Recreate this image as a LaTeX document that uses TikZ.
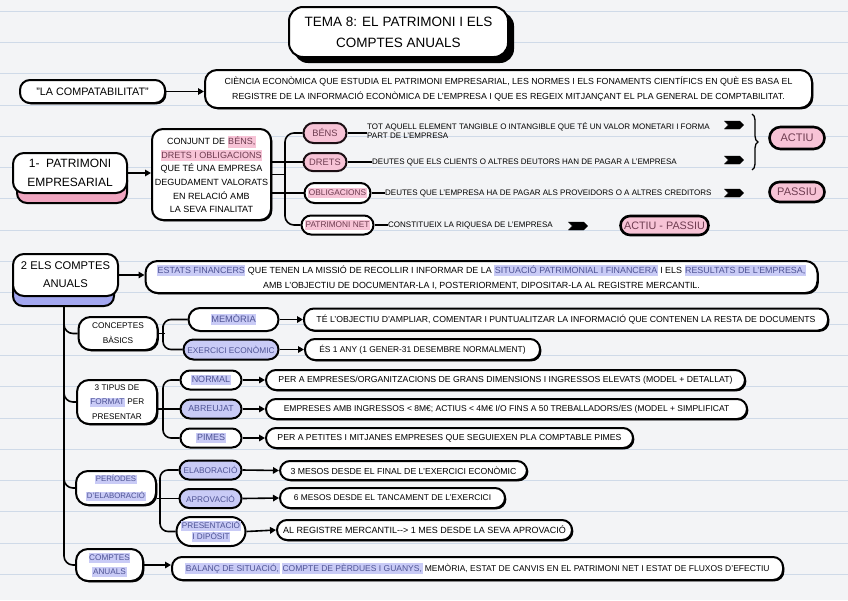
\documentclass[tikz,border=0pt]{standalone}
\usepackage{fontspec}
\setmainfont{Liberation Sans}
\usetikzlibrary{shapes.symbols,shapes.misc,arrows.meta,decorations.pathreplacing,shadows}
\definecolor{bg}{HTML}{F3F4F6}
\definecolor{rulec}{HTML}{CFDAE8}
\definecolor{pinkf}{HTML}{F7C3D6}
\definecolor{pinksh}{HTML}{F0A5C0}
\definecolor{lav}{HTML}{C9CBF6}
\definecolor{lavsh}{HTML}{A3A7F0}
\definecolor{lavtxt}{HTML}{4E5394}
\definecolor{pinktxt}{HTML}{6E3C50}
\newcommand{\hlb}[1]{{\setlength{\fboxsep}{0.6pt}\colorbox{lav}{\vrule height 0.8em depth 0.25em width 0pt\textcolor{lavtxt}{#1}}}}
\newcommand{\hlp}[1]{{\setlength{\fboxsep}{0.6pt}\colorbox{pinkf}{\vrule height 0.8em depth 0.25em width 0pt\textcolor{pinktxt}{#1}}}}
\newcommand{\fs}[2]{\fontsize{#1}{#2}\selectfont}
\tikzset{
  bx/.style={draw=black, line width=2pt, fill=white, rounded corners=10pt, align=center, inner sep=2pt},
  box/.style={bx, drop shadow={shadow xshift=1.4pt, shadow yshift=-1.4pt, fill=black, opacity=1}},
  dbox/.style={box, font=\fs{8.7}{10}},
  pill/.style={draw=black, line width=2pt, fill=white, rounded rectangle, inner sep=1.5pt, align=center, font=\fs{8.3}{9}},
  conn/.style={line width=1.6pt, draw=black},
  arr/.style={conn, -{Triangle[length=6pt,width=6.5pt]}},
  chev/.style={shape=signal, signal to=east, signal from=west, fill=black, draw=black, minimum width=19pt, minimum height=8pt, inner sep=0pt},
  desc/.style={anchor=west, inner sep=0pt, align=left, font=\fs{8}{9.5}}
}
\begin{document}
\begin{tikzpicture}[x=1pt,y=-1pt]
\useasboundingbox (0,0) rectangle (848,600);
\fill[bg] (0,0) rectangle (848,600);
\foreach \k in {0,...,18} \draw[rulec, line width=0.8pt] (0,11+31.3*\k) -- (848,11+31.3*\k);

% title
\fill[black, rounded corners=14pt] (294,12) rectangle (514,63);
\node[bx, rounded corners=14pt, minimum width=219pt, minimum height=50pt, font=\fs{13.5}{21}] (title) at (398.5,32) {TEMA 8: EL PATRIMONI I ELS\\COMPTES ANUALS};

% comptabilitat
\node[box, minimum width=145pt, minimum height=23pt, font=\fs{10.8}{11}] (lac) at (92.5,91.5) {"LA COMPATABILITAT"};
\node[box, minimum width=607pt, minimum height=38pt, rounded corners=12pt, font=\fs{8.8}{14.5}] (def) at (508.5,89) {CIÈNCIA ECONÒMICA QUE ESTUDIA EL PATRIMONI EMPRESARIAL, LES NORMES I ELS FONAMENTS CIENTÍFICS EN QUÈ ES BASA EL\\REGISTRE DE LA INFORMACIÓ ECONÒMICA DE L'EMPRESA I QUE ES REGEIX MITJANÇANT EL PLA GENERAL DE COMPTABILITAT.};
\draw[arr] (lac.east) -- (lac.east -| def.west);

% section 1
\fill[pinksh, draw=black, line width=2pt, rounded corners=10pt] (17,170) rectangle (127,203);
\node[bx, minimum width=114pt, minimum height=40pt, rounded corners=11pt, font=\fs{12}{19}] (pat) at (70,173) {1-\ \ PATRIMONI\\EMPRESARIAL};
\node[box, minimum width=119pt, minimum height=91pt, rounded corners=11pt, font=\fs{9}{13.6}] (cb) at (211.5,174.5) {CONJUNT DE \hlp{BÉNS,}\\\hlp{DRETS I OBLIGACIONS}\\QUE TÉ UNA EMPRESA\\DEGUDAMENT VALORATS\\EN RELACIÓ AMB\\LA SEVA FINALITAT};
\draw[arr] (pat.east) -- (pat.east -| cb.west);

\node[pill, fill=pinkf, draw=black!75!pinktxt, minimum width=46pt, minimum height=20pt, font=\fs{9.3}{10}] (bens) at (325,133) {\textcolor{pinktxt}{BÉNS}};
\node[pill, fill=pinkf, draw=black!75!pinktxt, minimum width=46pt, minimum height=18pt, font=\fs{9.3}{10}] (drets) at (325,162) {\textcolor{pinktxt}{DRETS}};
\node[pill, minimum width=69pt, minimum height=20pt] (oblig) at (337.5,193) {\hlp{OBLIGACIONS}};
\node[pill, minimum width=75pt, minimum height=19pt] (pn) at (337.5,225) {\hlp{PATRIMONI NET}};
\draw[conn, rounded corners=9pt] (bens.west) -| (285,180) |- (pn.west);
\draw[conn] (cb.east) -- ++(14,0);
\draw[conn] (drets.west -| cb.east) -- (drets.west);
\draw[conn] (oblig.west -| cb.east) -- (oblig.west);

\node[desc] (tb) at (367,130.5) {TOT AQUELL ELEMENT TANGIBLE O INTANGIBLE QUE TÉ UN VALOR MONETARI I FORMA\\PART DE L'EMPRESA};
\node[desc] (td) at (372,162) {DEUTES QUE ELS CLIENTS O ALTRES DEUTORS HAN DE PAGAR A L'EMPRESA};
\node[desc] (to) at (385,193) {DEUTES QUE L'EMPRESA HA DE PAGAR ALS PROVEIDORS O A ALTRES CREDITORS};
\node[desc] (tp) at (388,225) {CONSTITUEIX LA RIQUESA DE L'EMPRESA};
\draw[conn, line width=1.3pt] (bens.east) -- (bens.east -| tb.west);
\draw[conn, line width=1.3pt] (drets.east) -- (td.west);
\draw[conn, line width=1.3pt] (oblig.east) -- (to.west);
\draw[conn, line width=1.3pt] (pn.east) -- (tp.west);

\node[chev] (c1) at (734,125) {};
\node[chev] (c2) at (734,160) {};
\node[chev] (c3) at (734,193) {};
\node[chev] (c4) at (578,226) {};
\draw[line width=1.3pt, decorate, decoration={brace, amplitude=6pt}] (752,114) -- (752,170);
\node[pill, fill=pinkf, line width=2.6pt, minimum width=58pt, minimum height=22pt, font=\fs{11}{12}] (actiu) at (797,138) {\textcolor{pinktxt}{ACTIU}};
\node[pill, fill=pinkf, line width=2.6pt, minimum width=58pt, minimum height=20pt, font=\fs{11}{12}] (passiu) at (797,192) {\textcolor{pinktxt}{PASSIU}};
\node[pill, fill=pinkf, line width=2.6pt, minimum width=91pt, minimum height=19pt, font=\fs{10.8}{12}] (ap) at (664.5,225.5) {\textcolor{pinktxt}{ACTIU - PASSIU}};

% section 2
\fill[lavsh, draw=black, line width=2pt, rounded corners=10pt] (13,276) rectangle (114,306);
\node[bx, minimum width=105pt, minimum height=42pt, rounded corners=11pt, font=\fs{11.2}{18}] (ca2) at (65.5,275) {2 ELS COMPTES\\ANUALS};
\node[box, minimum width=672pt, minimum height=32pt, rounded corners=12pt, font=\fs{8.9}{15}] (est) at (481.5,277) {\hlb{ESTATS FINANCERS} QUE TENEN LA MISSIÓ DE RECOLLIR I INFORMAR DE LA \hlb{SITUACIÓ PATRIMONIAL I FINANCERA} I ELS \hlb{RESULTATS DE L'EMPRESA,}\\AMB L'OBJECTIU DE DOCUMENTAR-LA I, POSTERIORMENT, DIPOSITAR-LA AL REGISTRE MERCANTIL.};
\draw[arr] (ca2.east) -- (ca2.east -| est.west);

\node[box, minimum width=79pt, minimum height=33pt, rounded corners=12pt, font=\fs{8.3}{15}] (conc) at (118,333.5) {CONCEPTES\\BÀSICS};
\node[box, minimum width=80pt, minimum height=44pt, rounded corners=12pt, font=\fs{8.2}{14.5}] (tip) at (117,402) {3 TIPUS DE\\\hlb{FORMAT} PER\\PRESENTAR};
\node[box, minimum width=80pt, minimum height=34pt, rounded corners=12pt, font=\fs{7.8}{17}] (per) at (116,488) {\hlb{PERÍODES}\\\hlb{D'ELABORACIÓ}};
\node[box, minimum width=67pt, minimum height=32pt, rounded corners=12pt, font=\fs{8.2}{14}] (cafin) at (109.5,565) {\hlb{COMPTES}\\\hlb{ANUALS}};
\draw[conn, rounded corners=9pt] (64,306) |- (conc.west);
\draw[conn, rounded corners=9pt] (64,306) |- (tip.west);
\draw[conn, rounded corners=9pt] (64,306) |- (per.west);
\draw[conn, rounded corners=9pt] (64,306) |- (cafin.west);

\node[pill, minimum width=93pt, minimum height=23pt, font=\fs{9.3}{10}] (mem) at (233.5,319.5) {\hlb{MEMÒRIA}};
\node[pill, fill=lav, minimum width=98pt, minimum height=20pt] (exer) at (231,349.5) {\textcolor{lavtxt}{EXERCICI ECONÒMIC}};
\draw[conn, rounded corners=8pt] (mem.west) -| (163,333.5) |- (exer.west);
\draw[conn] (conc.east) -- ++(6,0);
\node[dbox, minimum width=524pt, minimum height=22pt] (dmem) at (566,319.5) {TÉ L'OBJECTIU D'AMPLIAR, COMENTAR I PUNTUALITZAR LA INFORMACIÓ QUE CONTENEN LA RESTA DE DOCUMENTS};
\node[dbox, minimum width=235pt, minimum height=21pt, font=\fs{8.4}{10}] (dexer) at (422.5,349.5) {ÉS 1 ANY (1 GENER-31 DESEMBRE NORMALMENT)};
\draw[arr] (mem.east) -- (dmem.west);
\draw[arr] (exer.east) -- (dexer.west);

\node[pill, minimum width=64pt, minimum height=19pt, font=\fs{9}{10}] (normal) at (211,380) {\hlb{NORMAL}};
\node[pill, fill=lav, minimum width=64pt, minimum height=19pt, font=\fs{8.8}{10}] (abre) at (211,409) {\textcolor{lavtxt}{ABREUJAT}};
\node[pill, minimum width=64pt, minimum height=19pt, font=\fs{9}{10}] (pimes) at (211,438) {\hlb{PIMES}};
\draw[conn, rounded corners=8pt] (normal.west) -| (163,409) |- (pimes.west);
\draw[conn] (abre.west -| tip.east) -- (abre.west);
\node[dbox, minimum width=479pt, minimum height=20pt] (dnormal) at (505.5,380) {PER A EMPRESES/ORGANITZACIONS DE GRANS DIMENSIONS I INGRESSOS ELEVATS (MODEL + DETALLAT)};
\node[dbox, minimum width=481pt, minimum height=20pt, font=\fs{8.5}{10}] (dabre) at (506.5,409) {EMPRESES AMB INGRESSOS < 8M€; ACTIUS < 4M€ I/O FINS A 50 TREBALLADORS/ES (MODEL + SIMPLIFICAT};
\node[dbox, minimum width=367pt, minimum height=20pt] (dpimes) at (449.5,438) {PER A PETITES I MITJANES EMPRESES QUE SEGUIEXEN PLA COMPTABLE PIMES};
\draw[arr] (normal.east) -- (dnormal.west);
\draw[arr] (abre.east) -- (dabre.west);
\draw[arr] (pimes.east) -- (dpimes.west);

\node[pill, fill=lav, minimum width=65pt, minimum height=19pt] (elab) at (210.5,470) {\textcolor{lavtxt}{ELABORACIÓ}};
\node[pill, fill=lav, minimum width=65pt, minimum height=19pt] (aprov) at (210.5,498.5) {\textcolor{lavtxt}{APROVACIÓ}};
\node[pill, minimum width=72pt, minimum height=29pt, font=\fs{8.2}{11}] (pres) at (211,531.5) {\hlb{PRESENTACIÓ}\\\hlb{I DIPÒSIT}};
\draw[conn, rounded corners=8pt] (elab.west) -| (160,498.5) |- (pres.west);
\draw[conn] (aprov.west -| per.east) -- (aprov.west);
\node[dbox, minimum width=247pt, minimum height=19pt] (delab) at (403.5,470.5) {3 MESOS DESDE EL FINAL DE L'EXERCICI ECONÒMIC};
\node[dbox, minimum width=225pt, minimum height=20pt, font=\fs{8.4}{10}] (daprov) at (392.5,498) {6 MESOS DESDE EL TANCAMENT DE L'EXERCICI};
\node[dbox, minimum width=295pt, minimum height=20pt, font=\fs{9}{10}] (dpres) at (424.5,530) {AL REGISTRE MERCANTIL-{}-{}> 1 MES DESDE LA SEVA APROVACIÓ};
\draw[arr] (elab.east) -- (delab.west);
\draw[arr] (aprov.east) -- (daprov.west);
\draw[arr] (pres.east) -- (dpres.west);

\node[dbox, minimum width=611pt, minimum height=23pt, font=\fs{8.5}{10}] (dca) at (477.5,568.5) {\hlb{BALANÇ DE SITUACIÓ,} \hlb{COMPTE DE PÈRDUES I GUANYS,} MEMÒRIA, ESTAT DE CANVIS EN EL PATRIMONI NET I ESTAT DE FLUXOS D'EFECTIU};
\draw[arr] (cafin.east) -- (cafin.east -| dca.west);
\end{tikzpicture}
\end{document}
